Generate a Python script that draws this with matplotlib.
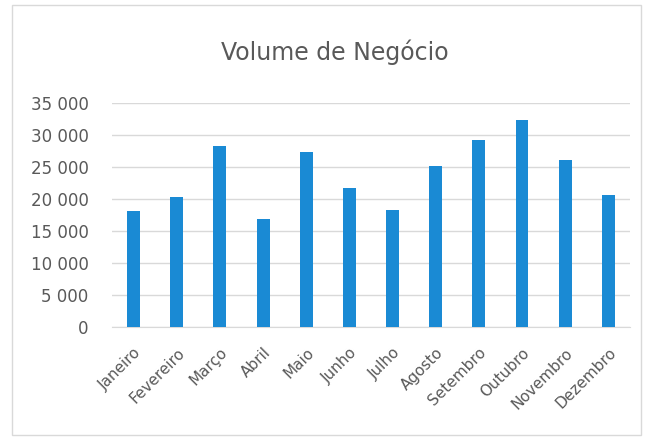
import matplotlib.pyplot as plt
from matplotlib.ticker import FuncFormatter
from matplotlib.patches import Rectangle

meses = ['Janeiro', 'Fevereiro', 'Março', 'Abril', 'Maio', 'Junho',
         'Julho', 'Agosto', 'Setembro', 'Outubro', 'Novembro', 'Dezembro']
volume = [18200, 20250, 28300, 16900, 27400, 21800,
          18300, 25200, 29300, 32300, 26100, 20600]
y_ticks = [0, 5000, 10000, 15000, 20000, 25000, 30000, 35000]

plt.rcParams['font.family'] = ['DejaVu Sans']
grey = '#595959'

fig = plt.figure(figsize=(6.49, 4.40), dpi=100)
fig.patch.set_facecolor('white')
fig.patches.append(Rectangle((0.018, 0.012), 0.97, 0.976, transform=fig.transFigure,
                             fill=False, edgecolor='#d9d9d9', linewidth=1))

ax = fig.add_axes([0.1726, 0.2568, 0.798, 0.509])
x = range(len(meses))
ax.bar(x, volume, width=0.3, color='#1a8ad4', zorder=3)

ax.set_xlim(-0.5, len(meses) - 0.5)
ax.set_ylim(0, 35000)
ax.set_yticks(y_ticks)
ax.yaxis.set_major_formatter(FuncFormatter(lambda v, p: f'{int(v):,}'.replace(',', ' ')))
ax.grid(axis='y', color='#d9d9d9', linewidth=1, zorder=0)
for s in ['top', 'right', 'left']:
    ax.spines[s].set_visible(False)
ax.spines['bottom'].set_color('#d9d9d9')

ax.set_xticks(list(x))
ax.set_xticklabels(meses, rotation=45, ha='right', rotation_mode='anchor',
                   fontsize=11, color=grey)
ax.tick_params(axis='x', length=0, pad=13)
ax.tick_params(axis='y', length=0, pad=17, labelsize=12, labelcolor=grey)

fig.text(0.516, 0.882, 'Volume de Negócio', ha='center', va='center',
         fontsize=17, color=grey)

fig.savefig('out.png', dpi=100)
